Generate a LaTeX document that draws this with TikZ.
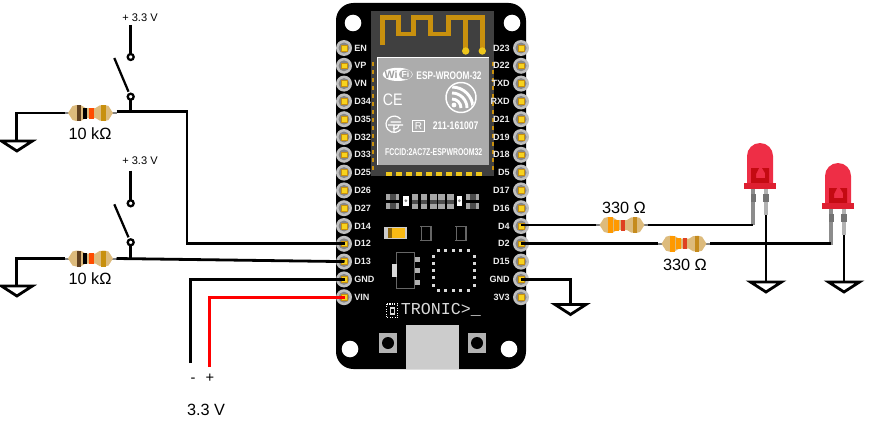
\documentclass[tikz,border=0pt]{standalone}
\usepackage{fontspec}
\setmainfont{Liberation Sans}
\newfontfamily\monofam{Liberation Mono}
\usetikzlibrary{calc, positioning}
\definecolor{wirered}{HTML}{FF0000}
\definecolor{bodytan}{HTML}{DDBB7C}
\definecolor{padgold}{HTML}{F7D31E}
\definecolor{antgold}{HTML}{C8900E}
\definecolor{ledred}{HTML}{EE2E46}
\definecolor{leddark}{HTML}{C40A12}
\definecolor{ledrim}{HTML}{DE1F30}
\tikzset{
  wire/.style={line width=2.1pt, black, line cap=butt, line join=miter},
  redwire/.style={wire, wirered},
  sw/.style={line width=1.7pt, black},
  pad/.style={draw=antgold, fill=padgold, line width=.5pt, inner sep=0pt, minimum size=4.4pt},
  pinlabel/.style={font=\bfseries\fontsize{6.8}{7}\selectfont, text=white!85!gray, inner sep=0pt},
  modtext/.style={font=\bfseries\selectfont, text=white, inner sep=0pt},
  lbl/.style={font=\fontsize{12.2}{13}\selectfont, inner sep=0pt},
  smalllbl/.style={font=\fontsize{8.3}{9}\selectfont, inner sep=0pt}
}
% resistor: name, x, y, then four band colours
\newcommand{\resistor}[7]{
\begin{scope}[shift={(#2,#3)}]
\draw [line width=1.5pt, gray] (-26,0)--(26,0);
\fill [bodytan] (-22.5,0)--(-18,-7)--(-14,-8)--(-9,-7.5)--(-5,-5)--(5,-5)--(9,-7.5)--(14,-8)--(18,-7)--(22.5,0)
  --(18,7)--(14,8)--(9,7.5)--(5,5)--(-5,5)--(-9,7.5)--(-14,8)--(-18,7)--cycle;
\fill [#4] (-14,-8) rectangle (-9.5,8);
\fill [#5] (-7.7,-5.5) rectangle (-3.3,5.5);
\fill [#6] (-1.3,-5.5) rectangle (3,5.5);
\fill [#7] (10.8,-8) rectangle (15.2,8);
\coordinate (#1l) at (-26,0);
\coordinate (#1r) at (26,0);
\end{scope}
}
% led: name, x, y (middle of the rim, top side)
\newcommand{\led}[3]{
\begin{scope}[shift={(#2,#3)}]
\fill [gray!90] (-8.6,6) rectangle (-4.6,42);
\fill [gray!60] (4,6) rectangle (8,32);
\fill [gray!110] (-9.3,11) rectangle (-3.9,19);
\fill [gray!110] (3.3,11) rectangle (8.7,19);
\fill [ledred] (-13,0)--(-13,-27) arc[start angle=180, end angle=360, radius=13] --(13,0)--cycle;
\fill [leddark] (-9,0)--(-9,-15)--(-1,-15)--(-4,-9)--(-4,-5)--(5,-5)--(5,-10)--(2,-15)--(9,-15)--(9,0)--cycle;
\fill [ledrim] (-15.7,0) rectangle (15.7,6.3);
\coordinate (#1a) at (-6.6,41);
\coordinate (#1c) at (6,32);
\end{scope}
}
% ground: name, x, y of the top line
\newcommand{\gnd}[3]{
\draw [wire, fill=white] (#2-15.5,#3)--(#2+15.5,#3)--(#2,#3+10)--cycle;
\coordinate (#1) at (#2,#3);
}
% switch: name, x, y of the upper contact, y of the lower contact
\newcommand{\switch}[4]{
\draw [sw] (#2-16.4,#3+1)--(#2-2.2,#4-5);
\draw [sw, fill=white] (#2,#3) circle (3);
\draw [sw, fill=white] (#2,#4) circle (3);
\coordinate (#1u) at (#2,#3-3);
\coordinate (#1d) at (#2,#4+3);
}
\begin{document}
\begin{tikzpicture}[x=0.75pt, y=-0.75pt]
\useasboundingbox (0,0) rectangle (874,435);
% board
\fill [black, rounded corners=13pt] (336,3) rectangle (526,369);
\foreach \x/\y in {353/23, 512/23, 350/349, 509/349} \fill [white] (\x,\y) circle (8.3);
\fill [white!25!black] (371,11) rectangle (494,176);
% antenna
\draw [antgold, line width=3.7pt, line join=miter] (382.7,45)--(382.7,17.7)--(398.3,17.7)--(398.3,34)--(413.3,34)--(413.3,17.7)--(430.7,17.7)--(430.7,34)--(448.3,34)--(448.3,17.7)--(482.3,17.7)--(482.3,50);
\draw [antgold, line width=3.7pt] (465.7,17.7)--(465.7,50);
\fill [padgold!80!antgold] (465.7,51) circle (3.7) (482.3,51) circle (3.7);
% module can
\fill [gray!65] (377.3,57.7) rectangle (489,165);
\draw [white, line width=1pt] (377.3,165)--(377.3,57.7)--(489,57.7);
\foreach \y in {62,70,...,166} {
\fill [antgold] (371.5,\y) rectangle (373.5,\y+4);
\fill [antgold] (492,\y) rectangle (494,\y+4);
}
\foreach \x in {386,396,...,476} \fill [padgold!80!antgold] (\x,172) rectangle (\x+6,176);
% wifi logo
\fill [white] (397.7,74.4) ellipse (15 and 6.6);
\fill [gray!65] (405.5,74.4) ellipse (6.4 and 4.9);
\node [modtext, text=gray!75, font=\bfseries\fontsize{8}{8}\selectfont] (wilogo) at (391,74.4) {Wi};
\node [modtext, font=\bfseries\fontsize{6.5}{7}\selectfont] (filogo) at (405.5,74.4) {Fi};
\node [modtext, font=\bfseries\fontsize{8.3}{9}\selectfont] (modname) at (449,76) {\scalebox{.75}[1]{ESP-WROOM-32}};
\node [modtext, font=\fontsize{12.5}{13}\selectfont] (celogo) at (392.7,100) {\scalebox{.85}[1]{CE}};
% espressif logo
\draw [white, line width=1.1pt] (461,97.5) circle (15);
\begin{scope}
\clip (461,97.5) circle (14);
\foreach \r in {9,15,21} \draw [white, line width=2.2pt] (452,108)+(\r,0) arc[start angle=0, end angle=-90, radius=\r];
\fill [white] (454,105) circle (2.4);
\end{scope}
% radio mark
\draw [white, line width=.9pt] (400.5,119)arc[start angle=-40, end angle=-320, radius=8.2];
\draw [white, line width=.9pt] (388,125)--(403,125) (390.5,122)--(401,122) (394,125)--(394,132) (399,125) arc[start angle=0, end angle=120, radius=4];
\draw [white, line width=.7pt] (412.7,120.7) rectangle (424,131.7);
\node [modtext, font=\rmfamily\fontsize{7.5}{8}\selectfont] (rmark) at (418.4,126.2) {R};
\node [modtext, font=\bfseries\fontsize{8.3}{9}\selectfont] (regno) at (455.7,125.7) {\scalebox{.78}[1]{211-161007}};
\node [modtext, font=\bfseries\fontsize{7.4}{8}\selectfont] (fccid) at (433.7,151.7) {\scalebox{.7}[1]{FCCID:2AC7Z-ESPWROOM32}};
% pins
\foreach \name [count=\i from 0] in {EN,VP,VN,D34,D35,D32,D33,D25,D26,D27,D14,D12,D13,GND,VIN} {
\pgfmathsetmacro{\py}{48+17.8*\i}
\fill [gray!50] (344,\py) circle (8);
\fill [gray!95] (344,\py) circle (5.5);
\node [pad] (l\name) at (344.5,\py) {};
\node [pinlabel, anchor=west] (lt\name) at (354,\py) {\name};
}
\foreach \name [count=\i from 0] in {D23,D22,TXD,RXD,D21,D19,D18,D5,D17,D16,D4,D2,D15,GND,3V3} {
\pgfmathsetmacro{\py}{48+17.8*\i}
\fill [gray!50] (521,\py) circle (8);
\fill [gray!95] (521,\py) circle (5.5);
\node [pad] (r\name) at (521,\py) {};
\node [pinlabel, anchor=east] (rt\name) at (510,\py) {\name};
}
% small parts
\foreach \x in {386,466} {
\fill [gray!70] (\x,194) rectangle (\x+13.3,200);
\fill [gray!70] (\x,202.7) rectangle (\x+13.3,209);
\fill [black!70] (\x+3.5,194) rectangle (\x+9.5,200);
\fill [black!70] (\x+3.5,202.7) rectangle (\x+9.5,209);
}
\foreach \x in {411.7,420.7,430,438.3,447.3} {
\fill [gray!70] (\x,194) rectangle (\x+6.7,209);
\fill [black!70] (\x,199.5) rectangle (\x+6.7,203.5);
}
\foreach \x in {403.3,456.7} {
\fill [white] (\x,195.7) rectangle (\x+5.3,205.7);
\fill [gray] (\x+2.6,200.7) circle (1.5);
}
\fill [gray!40] (384.3,227.3) rectangle (407,238.7);
\fill [padgold!70!orange] (388,228.3) rectangle (405,237.7);
\fill [antgold!70!black] (388,228.3) rectangle (392,237.7);
\foreach \x in {420,455} {
\draw [gray!80!black, line width=.6pt] (\x,226)--(\x+11,226)--(\x+11,240.7)--(\x,240.7);
\draw [gray!80!black, line width=.6pt] (\x+1.5,226) rectangle (\x+10,240.7);
}
\draw [gray!80!black, line width=.7pt] (396.7,252.3) rectangle (414.3,288.3);
\foreach \y in {256.7,268.3,280} \fill [gray!60] (415,\y) rectangle (420,\y+5);
\fill [gray!30] (392.3,264.3) rectangle (396.7,276.7);
\foreach \x in {438.3,445.7,453.3,460.7,468.3} {
\fill [gray!30] (\x-1.5,249.2) rectangle (\x+1.5,252.2);
\fill [gray!30] (\x-1.5,288.5) rectangle (\x+1.5,291.5);
}
\foreach \y in {256,263.3,270.7,277.7,285} {
\fill [gray!30] (431.8,\y-1.5) rectangle (434.8,\y+1.5);
\fill [gray!30] (472.5,\y-1.5) rectangle (475.5,\y+1.5);
}
% maker mark
\draw [white, line width=.8pt, densely dotted] (386.7,304) rectangle (397.7,317.7);
\fill [white!85!black] (389.5,306.5) rectangle (395,315);
\fill [black] (391,308.5) rectangle (393.5,313);
\node [font=\monofam\fontsize{12.5}{13}\selectfont, text=white!85!black, anchor=west, inner sep=0pt] (maker) at (400.7,310) {TRONIC>\_};
% usb and mounting pads
\fill [gray!40] (406,325) rectangle (459,369);
\foreach \x in {379,468} {
\fill [gray!60] (\x,333) rectangle (\x+18,353);
\fill [black] (\x+9,343) circle (6);
}
% upper switch
\node [smalllbl] (vone) at (140,17.5) {+ 3.3 V};
\switch{swa}{130.7}{57}{96.7}
\coordinate (swatop) at (130.7,25);
\draw [wire] (swatop)--(swau);
\coordinate (joina) at (130.7,111.5);
\draw [wire] (swad)--(joina);
\resistor{ra}{90.5}{113}{black!50!brown}{black}{orange!60!red}{antgold}
\coordinate (benda) at (187,111.5);
\coordinate (bendb) at (187,243.5);
\draw [wire] (rar |- benda)--(benda)--(bendb)--(lD12.center |- bendb);
\coordinate (cornera) at (16.7,113);
\gnd{gnda}{16.9}{141}
\draw [wire] (ral)--(cornera)--(cornera |- gnda);
\node [lbl] (ka) at (90,133.5) {10 kΩ};
% lower switch
\node [smalllbl] (vtwo) at (140,160.7) {+ 3.3 V};
\switch{swb}{130.7}{203.3}{242.3}
\coordinate (swbtop) at (130.7,170.7);
\draw [wire] (swbtop)--(swbu);
\coordinate (joinb) at (130.7,259.5);
\draw [wire] (swbd)--(joinb);
\resistor{rb}{90.5}{258.5}{black!50!brown}{black}{orange!60!red}{antgold}
\draw [wire] (rbr)--(lD13.center);
\coordinate (cornerb) at (16.7,258.5);
\gnd{gndb}{16.9}{286}
\draw [wire] (rbl)--(cornerb)--(cornerb |- gndb);
\node [lbl] (kb) at (90,278.5) {10 kΩ};
% supply
\coordinate (minus) at (190.7,363);
\coordinate (plus) at (209.5,367);
\draw [wire] (minus)--(minus |- lGND)--(lGND.center);
\draw [redwire] (plus)--(plus |- lVIN)--(lVIN.center);
\node [smalllbl, font=\fontsize{11}{11}\selectfont] (minuslbl) at (193,380) {-};
\node [smalllbl, font=\fontsize{11}{11}\selectfont] (pluslbl) at (210,378) {+};
\node [lbl] (vsupply) at (206,410) {3.3 V};
% gnd of the board
\gnd{gndc}{570.5}{304.5}
\draw [wire] (rGND.center)--(rGND.center -| gndc)--(gndc);
% leds
\resistor{rc}{622}{225}{orange!80!yellow}{orange!80!yellow}{red!50!brown}{antgold!70!brown}
\resistor{rd}{684}{243.7}{orange!80!yellow}{orange!80!yellow}{red!50!brown}{antgold!70!brown}
\led{ledb}{760}{183}
\led{ledd}{838}{203}
\draw [wire] (rD4.center |- rcl)--(rcl);
\draw [wire] (rcr)--(ledba |- rcr);
\draw [wire] (rD2.center |- rdl)--(rdl);
\draw [wire] (rdr)--(ledda |- rdr);
\gnd{gndd}{766}{282}
\gnd{gnde}{844}{282}
\draw [wire] (ledbc)--(gndd);
\draw [wire] (leddc)--(gnde);
\node [lbl] (ohma) at (624,208) {330 Ω};
\node [lbl] (ohmb) at (685,265) {330 Ω};
\end{tikzpicture}
\end{document}
